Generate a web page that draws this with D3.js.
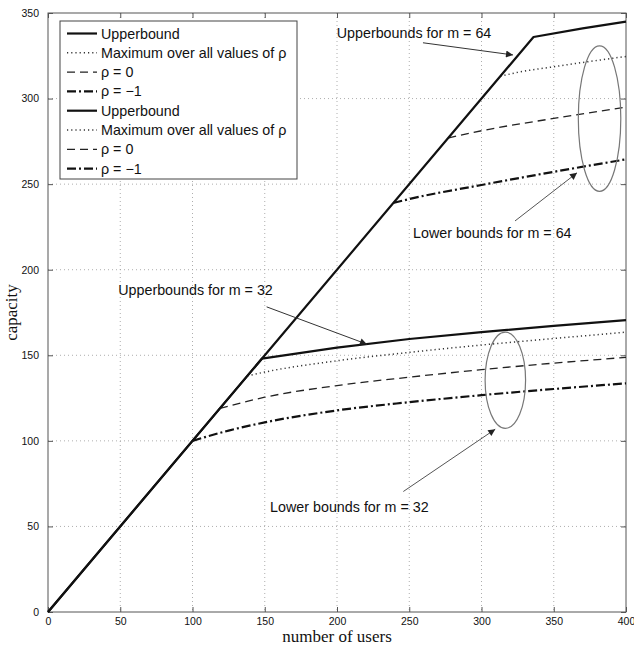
<!DOCTYPE html>
<html>
<head>
<meta charset="utf-8">
<script src="https://cdn.jsdelivr.net/npm/d3@7"></script>
<style>
  body { margin: 0; background: #fff; }
  svg { display: block; }
  text { font-family: "Liberation Sans", Arial, sans-serif; fill: #111; }
</style>
</head>
<body>
<svg id="chart" width="634" height="646"></svg>
<script>
// axis ticks
var userTicks = [0, 50, 100, 150, 200, 250, 300, 350, 400];
var capTicks = [0, 50, 100, 150, 200, 250, 300, 350];

// m = 32 curves  [users, capacity]
var upper32 = [[0, 0], [148, 148], [200, 154.5], [250, 159.5], [300, 163.5], [350, 167.2], [400, 170.5]];
var maxRho32 = [[138, 138], [150, 140.2], [200, 146.8], [250, 151.7], [300, 156], [350, 159.8], [400, 163.5]];
var rho0_32 = [[119, 119], [150, 125.5], [200, 132.3], [250, 137.2], [300, 141.6], [350, 145.4], [400, 148.8]];
var rhoM1_32 = [[100, 100], [125, 106], [150, 110.8], [200, 117.8], [250, 122.6], [300, 126.7], [350, 130.3], [400, 133.6]];

// m = 64 curves
var upper64 = [[0, 0], [336, 336], [370, 341], [400, 345]];
var maxRho64 = [[313, 313], [325, 315.3], [350, 318.6], [375, 321.7], [400, 324.6]];
var rho0_64 = [[277, 277], [300, 281.2], [350, 288.4], [400, 295]];
var rhoM1_64 = [[239, 239], [250, 241.3], [300, 249.5], [350, 257.2], [400, 264.5]];

var legendLabels = ["Upperbound", "Maximum over all values of \u03c1", "\u03c1 = 0", "\u03c1 = \u22121",
                    "Upperbound", "Maximum over all values of \u03c1", "\u03c1 = 0", "\u03c1 = \u22121"];

// annotations (data units)
var noteTexts = ["Upperbounds for m = 64", "Lower bounds for m = 64", "Upperbounds for m = 32", "Lower bounds for m = 32"];
var notePos = [[199.8, 338.6], [252.6, 221.5], [48.6, 188.1], [153.7, 61.4]];
var arrowFrom = [[259.5, 332.6], [323.2, 228.5], [151.3, 178.3], [245.9, 70.4]];
var arrowTo = [[321.8, 325.5], [366.1, 256.6], [220.7, 156.5], [309.5, 106.8]];
// ellipses: cx, cy, rx, ry
var ellipses = [[316.5, 135.4, 14.0, 28.1], [381.7, 288.3, 14.7, 42.5]];

var margin = {top: 13, left: 48, right: 8, bottom: 34};
var svg = d3.select("#chart");
var W = +svg.attr("width"), H = +svg.attr("height");
var w = W - margin.left - margin.right, h = H - margin.top - margin.bottom;

var x = d3.scaleLinear().domain([0, 400]).range([0, w]);
var y = d3.scaleLinear().domain([0, 350]).range([h, 0]);

var defs = svg.append("defs");
defs.append("marker").attr("id", "arrowDark")
	.attr("viewBox", "0 0 10 10").attr("refX", 10).attr("refY", 5)
	.attr("markerWidth", 10).attr("markerHeight", 7).attr("markerUnits", "userSpaceOnUse")
	.attr("orient", "auto")
	.append("path").attr("d", "M0,0L10,5L0,10z").attr("fill", "#222");

var g = svg.append("g").attr("transform", "translate(" + margin.left + "," + margin.top + ")");

// grid
g.append("g").selectAll("line").data(userTicks.slice(1, -1)).enter().append("line")
	.attr("x1", function(d) { return x(d); }).attr("x2", function(d) { return x(d); })
	.attr("y1", 0).attr("y2", h)
	.attr("stroke", "#999").attr("stroke-width", 0.8).attr("stroke-dasharray", "1,3");
g.append("g").selectAll("line").data(capTicks.slice(1, -1)).enter().append("line")
	.attr("y1", function(d) { return y(d); }).attr("y2", function(d) { return y(d); })
	.attr("x1", 0).attr("x2", w)
	.attr("stroke", "#999").attr("stroke-width", 0.8).attr("stroke-dasharray", "1,3");

// axes with inward ticks
var xAxis = g.append("g").attr("transform", "translate(0," + h + ")")
	.call(d3.axisBottom(x).tickValues(userTicks).tickSizeInner(-5).tickSizeOuter(0).tickPadding(6));
var xTop = g.append("g")
	.call(d3.axisTop(x).tickValues(userTicks).tickSizeInner(-5).tickSizeOuter(0).tickFormat(""));
var yAxis = g.append("g")
	.call(d3.axisLeft(y).tickValues(capTicks).tickSizeInner(-5).tickSizeOuter(0).tickPadding(9));
var yRight = g.append("g").attr("transform", "translate(" + w + ",0)")
	.call(d3.axisRight(y).tickValues(capTicks).tickSizeInner(-5).tickSizeOuter(0).tickFormat(""));
[xAxis, xTop, yAxis, yRight].forEach(function(a) {
	a.select(".domain").remove();
	a.selectAll("line").attr("stroke", "#555");
	a.selectAll("text").style("font-family", "'Liberation Sans', Arial, sans-serif")
		.style("font-size", "10.5px").attr("fill", "#222");
});
g.append("rect").attr("width", w).attr("height", h)
	.attr("fill", "none").attr("stroke", "#555").attr("stroke-width", 1);

// curve styles
var styles = {
	upper: {dash: null, width: 2.2, color: "#111"},
	maxRho: {dash: "1.2,3", width: 1.5, color: "#333"},
	rho0: {dash: "8,5", width: 1.3, color: "#222"},
	rhoM1: {dash: "9,3,2,3", width: 2.2, color: "#111"}
};

var lineLin = d3.line().x(function(d) { return x(d[0]); }).y(function(d) { return y(d[1]); });
var lineSmooth = d3.line().curve(d3.curveMonotoneX)
	.x(function(d) { return x(d[0]); }).y(function(d) { return y(d[1]); });

function drawCurve(data, st, gen) {
	g.append("path").datum(data).attr("d", gen)
		.attr("fill", "none").attr("stroke", st.color).attr("stroke-width", st.width)
		.attr("stroke-dasharray", st.dash).attr("stroke-linejoin", "round");
}

drawCurve(maxRho32, styles.maxRho, lineSmooth);
drawCurve(rho0_32, styles.rho0, lineSmooth);
drawCurve(rhoM1_32, styles.rhoM1, lineSmooth);
drawCurve(maxRho64, styles.maxRho, lineSmooth);
drawCurve(rho0_64, styles.rho0, lineSmooth);
drawCurve(rhoM1_64, styles.rhoM1, lineSmooth);
drawCurve(upper32, styles.upper, lineLin);
drawCurve(upper64, styles.upper, lineLin);

// ellipses
g.selectAll("ellipse").data(ellipses).enter().append("ellipse")
	.attr("cx", function(d) { return x(d[0]); }).attr("cy", function(d) { return y(d[1]); })
	.attr("rx", function(d) { return x(d[2]) - x(0); }).attr("ry", function(d) { return y(0) - y(d[3]); })
	.attr("fill", "none").attr("stroke", "#777").attr("stroke-width", 1.2);

// arrows + notes
arrowFrom.forEach(function(f, i) {
	var t = arrowTo[i];
	g.append("line")
		.attr("x1", x(f[0])).attr("y1", y(f[1])).attr("x2", x(t[0])).attr("y2", y(t[1]))
		.attr("stroke", i % 2 == 0 ? "#333" : "#555").attr("stroke-width", 1)
		.attr("marker-end", "url(#arrowDark)");
});
g.selectAll("text.note").data(noteTexts).enter().append("text").attr("class", "note")
	.attr("x", function(d, i) { return x(notePos[i][0]); })
	.attr("y", function(d, i) { return y(notePos[i][1]); })
	.attr("dy", "0.35em").style("font-size", "14.3px")
	.text(function(d) { return d; });

// legend
var legendStyles = [styles.upper, styles.maxRho, styles.rho0, styles.rhoM1,
                    styles.upper, styles.maxRho, styles.rho0, styles.rhoM1];
var lg = g.append("g").attr("transform", "translate(12,8)");
lg.append("rect").attr("width", 237).attr("height", 158)
	.attr("fill", "#fff").attr("stroke", "#444").attr("stroke-width", 1);
var rows = lg.selectAll("g.row").data(legendLabels).enter().append("g").attr("class", "row")
	.attr("transform", function(d, i) { return "translate(0," + (12.5 + i * 19.3) + ")"; });
rows.append("line").attr("x1", 7).attr("x2", 37).attr("y1", 0).attr("y2", 0)
	.attr("stroke", function(d, i) { return legendStyles[i].color; })
	.attr("stroke-width", function(d, i) { return legendStyles[i].width; })
	.attr("stroke-dasharray", function(d, i) { return legendStyles[i].dash; });
rows.append("text").attr("x", 41).attr("dy", "0.35em").style("font-size", "14.3px")
	.text(function(d) { return d; });

// axis titles
svg.append("text").attr("x", margin.left + w / 2).attr("y", 642)
	.attr("text-anchor", "middle")
	.style("font-family", "'Liberation Serif', 'Times New Roman', serif").style("font-size", "17px")
	.text("number of users");
svg.append("text").attr("transform", "translate(17," + (margin.top + h / 2) + ") rotate(-90)")
	.attr("text-anchor", "middle")
	.style("font-family", "'Liberation Serif', 'Times New Roman', serif").style("font-size", "17px")
	.text("capacity");
</script>
</body>
</html>
